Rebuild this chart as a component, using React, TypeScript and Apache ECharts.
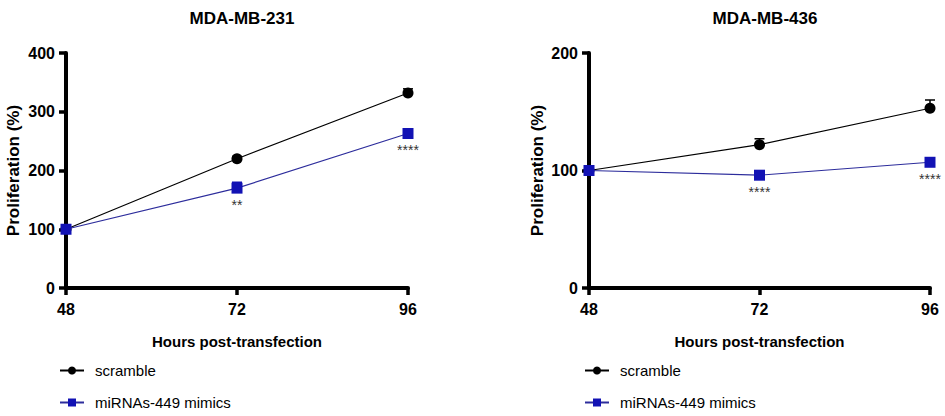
import React, { useEffect, useRef } from "react";
import * as echarts from "echarts";

const hours = [48, 72, 96];
const xTicks = ["48", "72", "96"];
const titles = ["MDA-MB-231", "MDA-MB-436"];
const seriesNames = ["scramble", "miRNAs-449 mimics"];

const scramble231 = [100, 220, 332];
const scramble231Err = [0, 4, 7];
const mimic231 = [100, 170, 263];
const mimic231Err = [0, 10, 4];
const sig231 = ["", "**", "****"];

const scramble436 = [100, 122, 153];
const scramble436Err = [0, 5, 7];
const mimic436 = [100, 96, 107];
const mimic436Err = [0, 2, 3];
const sig436 = ["", "****", "****"];

const yMax = [400, 200];

const FONT = "'Liberation Sans', Arial, Helvetica, sans-serif";
const BLACK = "#000000";
const BLUE_MARK = "#1212b4";
const BLUE_LINE = "#2d2d9c";
const AXIS_W = 4;

function pts(vals: number[]) {
  return hours.map((h, i) => [h, vals[i]]);
}
function errPts(vals: number[], errs: number[]) {
  return hours.map((h, i) => [h, vals[i], errs[i]]);
}

const errRender = (color: string) => (params: any, api: any) => {
  const x = api.value(0);
  const y = api.value(1);
  const e = api.value(2);
  if (!e) return null;
  const p0 = api.coord([x, y]);
  const p1 = api.coord([x, y + e]);
  return {
    type: "group",
    children: [
      { type: "line", shape: { x1: p0[0], y1: p0[1], x2: p1[0], y2: p1[1] }, style: { stroke: color, lineWidth: 1.5 } },
      { type: "line", shape: { x1: p1[0] - 5, y1: p1[1], x2: p1[0] + 5, y2: p1[1] }, style: { stroke: color, lineWidth: 1.5 } },
    ],
  };
};

export default function App() {
  const ref = useRef<HTMLDivElement>(null);
  useEffect(() => {
    if (!ref.current) return;
    const chart = echarts.init(ref.current, undefined, { renderer: "svg" });
    const grids = [
      { left: 66, top: 53, width: 342, height: 235 },
      { left: 589, top: 53, width: 341, height: 235 },
    ];
    const xAxes = grids.map((_, i) => ({
      type: "value",
      gridIndex: i,
      min: 48,
      max: 96,
      interval: 24,
      axisLine: { show: true, lineStyle: { color: BLACK, width: AXIS_W } },
      axisTick: { show: true, length: 7, inside: false, lineStyle: { color: BLACK, width: AXIS_W - 0.5 } },
      splitLine: { show: false },
      axisLabel: {
        margin: 13,
        color: BLACK,
        fontFamily: FONT,
        fontWeight: "bold",
        fontSize: 16,
        formatter: (v: number) => xTicks[hours.indexOf(v)] ?? String(v),
      },
      name: "Hours post-transfection",
      nameLocation: "middle",
      nameGap: 46,
      nameTextStyle: { color: BLACK, fontFamily: FONT, fontWeight: "bold", fontSize: 15 },
    }));
    const yAxes = grids.map((_, i) => ({
      type: "value",
      gridIndex: i,
      min: 0,
      max: yMax[i],
      interval: 100,
      axisLine: { show: true, lineStyle: { color: BLACK, width: AXIS_W } },
      axisTick: { show: true, length: 7, inside: false, lineStyle: { color: BLACK, width: AXIS_W - 0.5 } },
      splitLine: { show: false },
      axisLabel: { margin: 11, color: BLACK, fontFamily: FONT, fontWeight: "bold", fontSize: 16 },
      name: "Proliferation (%)",
      nameLocation: "middle",
      nameGap: i === 0 ? 44 : 43,
      nameTextStyle: { color: BLACK, fontFamily: FONT, fontWeight: "bold", fontSize: 17 },
    }));

    const sets = [
      { s: scramble231, se: scramble231Err, m: mimic231, me: mimic231Err, sig: sig231 },
      { s: scramble436, se: scramble436Err, m: mimic436, me: mimic436Err, sig: sig436 },
    ];
    const series: any[] = [];
    sets.forEach((d, i) => {
      series.push({
        type: "custom",
        name: "err-s-" + i,
        xAxisIndex: i,
        yAxisIndex: i,
        renderItem: errRender(BLACK),
        encode: { x: 0, y: 1 },
        data: errPts(d.s, d.se),
        z: 1,
        silent: true,
      });
      series.push({
        type: "custom",
        name: "err-m-" + i,
        xAxisIndex: i,
        yAxisIndex: i,
        renderItem: errRender(BLUE_MARK),
        encode: { x: 0, y: 1 },
        data: errPts(d.m, d.me),
        z: 1,
        silent: true,
      });
      series.push({
        type: "line",
        name: seriesNames[0],
        xAxisIndex: i,
        yAxisIndex: i,
        data: pts(d.s),
        symbol: "circle",
        symbolSize: 11,
        showAllSymbol: true,
        lineStyle: { color: BLACK, width: 1.2 },
        itemStyle: { color: BLACK },
        z: 2,
      });
      series.push({
        type: "line",
        name: seriesNames[1],
        xAxisIndex: i,
        yAxisIndex: i,
        data: pts(d.m),
        symbol: "rect",
        symbolSize: 11,
        showAllSymbol: true,
        lineStyle: { color: BLUE_LINE, width: 1.2 },
        itemStyle: { color: BLUE_MARK },
        label: {
          show: true,
          position: "bottom",
          distance: 4,
          color: "#333",
          fontFamily: FONT,
          fontSize: 14,
          formatter: (p: any) => d.sig[p.dataIndex],
        },
        z: 3,
      });
    });

    const legendAt = (left: number, top: number, name: string) => ({
      left,
      top,
      itemWidth: 24,
      itemHeight: 10,
      data: [name],
      selectedMode: false,
      textStyle: { fontFamily: FONT, fontSize: 15, color: BLACK, padding: [0, 0, 0, 6] },
    });

    chart.setOption({
      animation: false,
      backgroundColor: "#ffffff",
      title: [
        { text: titles[0], left: 237, top: 5, textAlign: "center", textStyle: { fontFamily: FONT, fontWeight: "bold", fontSize: 17, color: BLACK } },
        { text: titles[1], left: 760, top: 5, textAlign: "center", textStyle: { fontFamily: FONT, fontWeight: "bold", fontSize: 17, color: BLACK } },
      ],
      legend: [
        legendAt(54, 358, seriesNames[0]),
        legendAt(54, 390, seriesNames[1]),
        legendAt(579, 358, seriesNames[0]),
        legendAt(579, 390, seriesNames[1]),
      ],
      grid: grids,
      xAxis: xAxes,
      yAxis: yAxes,
      series,
    });
    return () => chart.dispose();
  }, []);
  return (
    <div
      ref={ref}
      style={{ position: "fixed", left: 0, top: 0, width: 945, height: 416, background: "#fff" }}
    />
  );
}
